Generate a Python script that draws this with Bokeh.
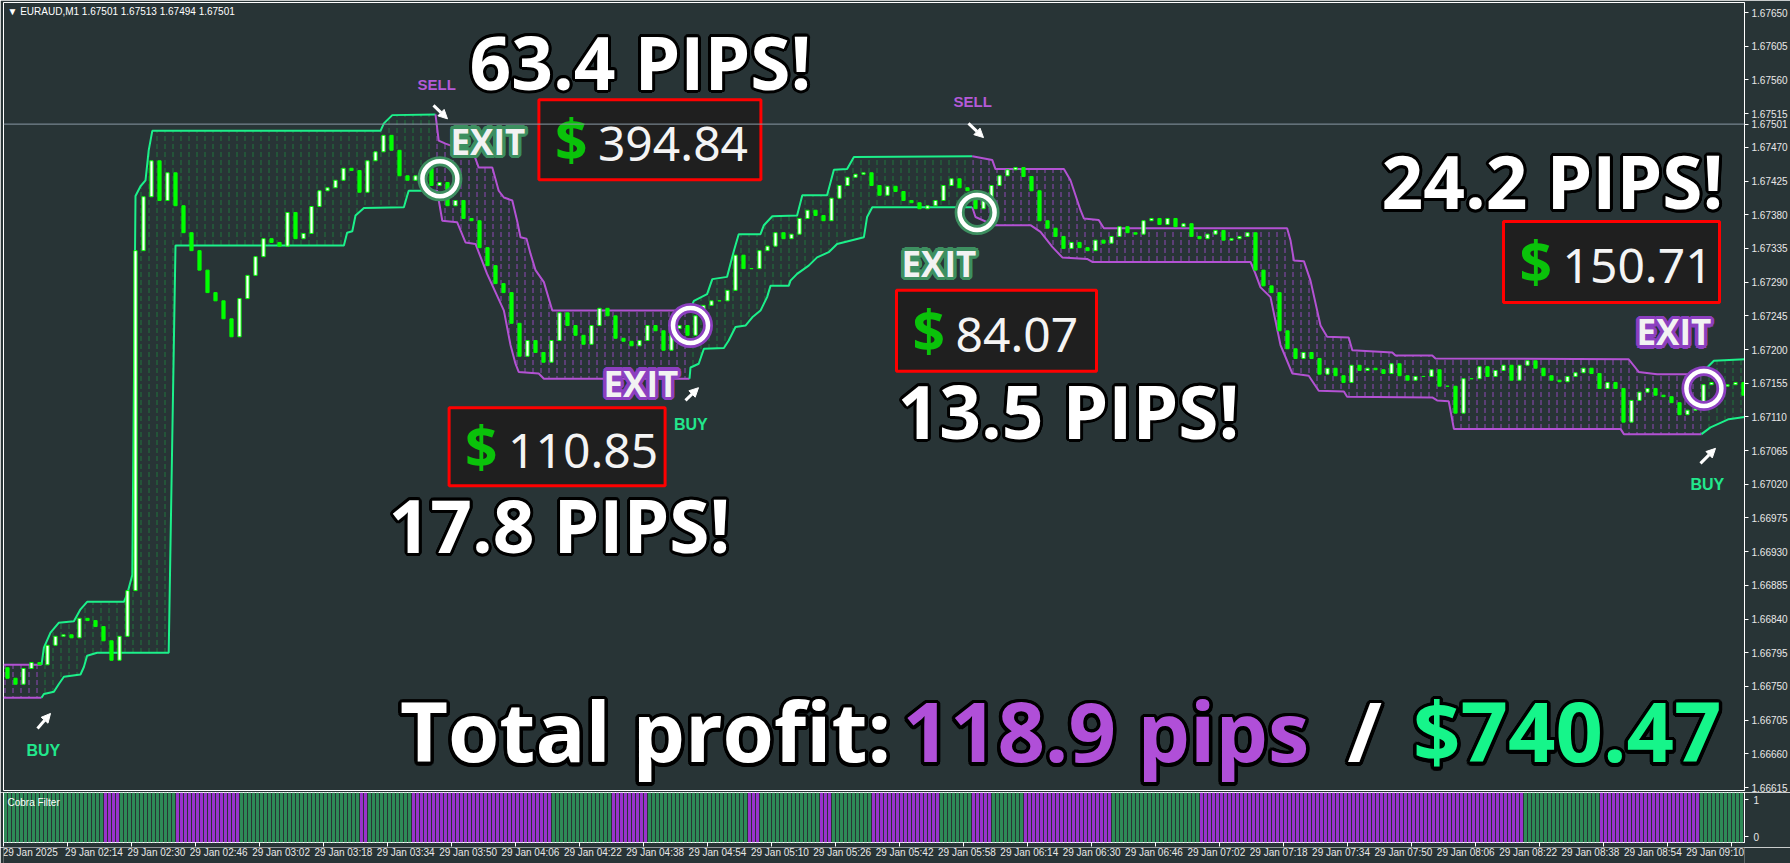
import math
from bokeh.plotting import figure
from bokeh.layouts import column
from bokeh.models import (Range1d, FixedTicker, PrintfTickFormatter, Span, Label,
                          Arrow, NormalHead, ColumnDataSource, CustomJSTickFormatter)
from bokeh.core.properties import value
from bokeh.embed import file_html
from bokeh.resources import INLINE

# ---------------------------------------------------------------- data
# close prices, one value per pair of 1-minute bars (bar 0 = 29 Jan 01:58)
first_open = 1.66775
closes = [
    1.66761, 1.66753, 1.66774, 1.66782, 1.66779, 1.66805, 1.66817, 1.66819, 1.66815, 1.66841,
    1.66838, 1.66830, 1.66811, 1.66785, 1.66817, 1.66878, 1.67332, 1.67404, 1.67452, 1.67399,
    1.67436, 1.67392, 1.67356, 1.67332, 1.67306, 1.67276, 1.67265, 1.67241, 1.67217, 1.67268,
    1.67299, 1.67324, 1.67348, 1.67343, 1.67338, 1.67383, 1.67348, 1.67355, 1.67391, 1.67412,
    1.67416, 1.67426, 1.67442, 1.67439, 1.67410, 1.67452, 1.67464, 1.67486, 1.67466, 1.67432,
    1.67426, 1.67432, 1.67442, 1.67419, 1.67423, 1.67392, 1.67399, 1.67375, 1.67372, 1.67336,
    1.67312, 1.67288, 1.67276, 1.67235, 1.67191, 1.67212, 1.67196, 1.67183, 1.67212, 1.67249,
    1.67232, 1.67219, 1.67207, 1.67232, 1.67255, 1.67245, 1.67215, 1.67211, 1.67205, 1.67212,
    1.67232, 1.67225, 1.67199, 1.67228, 1.67232, 1.67219, 1.67245, 1.67259, 1.67265, 1.67265,
    1.67279, 1.67326, 1.67308, 1.67308, 1.67332, 1.67338, 1.67356, 1.67348, 1.67354, 1.67375,
    1.67386, 1.67379, 1.67372, 1.67402, 1.67419, 1.67430, 1.67434, 1.67436, 1.67419, 1.67406,
    1.67418, 1.67411, 1.67399, 1.67396, 1.67388, 1.67392, 1.67399, 1.67419, 1.67428, 1.67416,
    1.67412, 1.67388, 1.67399, 1.67419, 1.67432, 1.67440, 1.67443, 1.67431, 1.67412, 1.67372,
    1.67362, 1.67351, 1.67335, 1.67343, 1.67336, 1.67332, 1.67346, 1.67342, 1.67351, 1.67364,
    1.67356, 1.67354, 1.67372, 1.67375, 1.67367, 1.67375, 1.67364, 1.67368, 1.67351, 1.67348,
    1.67354, 1.67359, 1.67346, 1.67348, 1.67351, 1.67356, 1.67306, 1.67285, 1.67276, 1.67225,
    1.67201, 1.67188, 1.67196, 1.67188, 1.67167, 1.67175, 1.67165, 1.67156, 1.67179, 1.67172,
    1.67175, 1.67173, 1.67168, 1.67181, 1.67165, 1.67159, 1.67164, 1.67164, 1.67173, 1.67151,
    1.67151, 1.67115, 1.67161, 1.67161, 1.67177, 1.67164, 1.67172, 1.67179, 1.67159, 1.67179,
    1.67185, 1.67175, 1.67165, 1.67159, 1.67157, 1.67164, 1.67169, 1.67175, 1.67168, 1.67148,
    1.67156, 1.67148, 1.67103, 1.67132, 1.67143, 1.67148, 1.67139, 1.67137, 1.67129, 1.67113,
    1.67119, 1.67121, 1.67153, 1.67156, 1.67151, 1.67153, 1.67156, 1.67139,
]

# channel (upper / lower line) vertices, per trend segment: bar index and price
p0_up_bar = [-0.5, 9]
p0_up = [1.66779, 1.66779]
p0_lo_bar = [-0.5, 9]
p0_lo = [1.66735, 1.66735]

g1_up_bar = [9, 9.6, 11.25, 13.3, 17.1, 18.75, 20.4, 29.6, 30.4, 31.7, 32.1, 32.5, 33.75, 35,
             35.8, 36.7, 93.75, 94.6, 96.7, 107.5]
g1_up = [1.66779, 1.66802, 1.66822, 1.66835, 1.66837, 1.66853, 1.66863, 1.66863, 1.66873,
         1.66899, 1.67152, 1.67405, 1.67418, 1.67426, 1.67466, 1.67492, 1.67492, 1.67502,
         1.67513, 1.67514]
g1_lo_bar = [9, 9.6, 12.1, 13.3, 14.6, 18.75, 19.6, 20.4, 22.9, 40.8, 42.5, 84.6, 85.4, 86.7,
             87.5, 89.6, 99.6, 100.4, 100.8, 107.5]
g1_lo = [1.66735, 1.66740, 1.66743, 1.66753, 1.66763, 1.66766, 1.66776, 1.66791, 1.66795,
         1.66795, 1.67339, 1.67339, 1.67356, 1.67358, 1.67379, 1.67389, 1.67390, 1.67405,
         1.67412, 1.67412]

p1_up_bar = [107.5, 108.3, 110, 117.1, 118.3, 121.7, 123.3, 124.6, 126.7, 127.9, 128.75,
             130.25, 131.25, 132.5, 134.6, 136.7, 171]
p1_up = [1.67514, 1.67479, 1.67475, 1.67461, 1.67443, 1.67443, 1.67412, 1.67403, 1.67399,
         1.67372, 1.67350, 1.67348, 1.67328, 1.67306, 1.67290, 1.67252, 1.67252]
p1_lo_bar = [107.5, 107.9, 109.2, 112.9, 115, 117.5, 120.4, 124.6, 126.25, 127.5, 128.3,
             133.3, 134.6, 171]
p1_lo = [1.67412, 1.67412, 1.67372, 1.67370, 1.67343, 1.67341, 1.67301, 1.67252, 1.67206,
         1.67181, 1.67170, 1.67168, 1.67161, 1.67161]

g2_up_bar = [171, 172.1, 175.4, 176.7, 180.4, 182.1, 183.3, 188.75, 189.6, 191.7, 197.9,
             199.2, 205.4, 207.1, 210.4, 212.1, 241.7]
g2_up = [1.67252, 1.67265, 1.67274, 1.67294, 1.67297, 1.67332, 1.67354, 1.67354, 1.67366,
         1.67378, 1.67379, 1.67406, 1.67406, 1.67440, 1.67441, 1.67457, 1.67458]
g2_lo_bar = [171, 171.25, 173.3, 174.6, 179.6, 180.8, 182.5, 185, 186.7, 188.75, 190.4,
             191.25, 195.8, 196.25, 197.9, 200.8, 202.9, 205.8, 207.9, 214.6, 215.4, 216.7,
             241.7]
g2_lo = [1.67161, 1.67176, 1.67181, 1.67201, 1.67202, 1.67212, 1.67230, 1.67232, 1.67243,
         1.67252, 1.67270, 1.67285, 1.67285, 1.67292, 1.67301, 1.67312, 1.67323, 1.67330,
         1.67341, 1.67350, 1.67377, 1.67390, 1.67390]

p2_up_bar = [241.7, 246.7, 247.5, 264.6, 266.25, 268.75, 269.6, 273.3, 274.6, 320.4, 321.25,
             322.1, 324.6, 326.25, 328.75, 330.4, 335.8, 336.7, 346.7, 347.5, 356.7, 357.5,
             405.8, 408.3, 412.9, 424]
p2_up = [1.67458, 1.67453, 1.67441, 1.67441, 1.67426, 1.67386, 1.67375, 1.67373, 1.67362,
         1.67362, 1.67346, 1.67319, 1.67318, 1.67292, 1.67232, 1.67217, 1.67216, 1.67199,
         1.67196, 1.67192, 1.67192, 1.67188, 1.67187, 1.67170, 1.67167, 1.67167]
p2_lo_bar = [241.7, 242.5, 247.1, 256.25, 258.75, 261.7, 264.2, 270.4, 271.7, 311.25, 312.5,
             313.75, 316.25, 318.75, 320, 321.7, 325.8, 328.3, 334.6, 335.4, 356.7, 357.9,
             360.8, 362.1, 403.75, 404.6, 424]
p2_lo = [1.67390, 1.67377, 1.67366, 1.67366, 1.67357, 1.67337, 1.67323, 1.67321, 1.67317,
         1.67317, 1.67301, 1.67283, 1.67270, 1.67206, 1.67190, 1.67168, 1.67165, 1.67145,
         1.67144, 1.67137, 1.67136, 1.67132, 1.67131, 1.67094, 1.67094, 1.67087, 1.67087]

g3_up_bar = [424, 425.4, 427.1, 434.75]
g3_up = [1.67167, 1.67176, 1.67185, 1.67187]
g3_lo_bar = [424, 426.25, 430, 430.8, 434.75]
g3_lo = [1.67087, 1.67096, 1.67105, 1.67107, 1.67110]

# Cobra Filter histogram: run lengths (in 1-minute bars) of each state
filter_state = ["up", "down", "up", "down", "up", "down", "up", "down", "up", "down", "up",
                "down", "up", "down", "up", "down", "up", "down", "up", "down", "up", "down",
                "up", "down", "up"]
filter_len = [25, 4, 14, 16, 30, 2, 11, 35, 15, 9, 25, 3, 15, 3, 10, 17, 8, 5, 8, 22, 22, 81,
              19, 25, 11]

price_ticks = [1.67650, 1.67605, 1.67560, 1.67515, 1.67470, 1.67425, 1.67380, 1.67335,
               1.67290, 1.67245, 1.67200, 1.67155, 1.67110, 1.67065, 1.67020, 1.66975,
               1.66930, 1.66885, 1.66840, 1.66795, 1.66750, 1.66705, 1.66660, 1.66615]
time_labels = ["29 Jan 2025", "29 Jan 02:14", "29 Jan 02:30", "29 Jan 02:46", "29 Jan 03:02",
               "29 Jan 03:18", "29 Jan 03:34", "29 Jan 03:50", "29 Jan 04:06", "29 Jan 04:22",
               "29 Jan 04:38", "29 Jan 04:54", "29 Jan 05:10", "29 Jan 05:26", "29 Jan 05:42",
               "29 Jan 05:58", "29 Jan 06:14", "29 Jan 06:30", "29 Jan 06:46", "29 Jan 07:02",
               "29 Jan 07:18", "29 Jan 07:34", "29 Jan 07:50", "29 Jan 08:06", "29 Jan 08:22",
               "29 Jan 08:38", "29 Jan 08:54", "29 Jan 09:10"]
last_price = 1.67501
header_text = "\u25bc EURAUD,M1  1.67501 1.67513 1.67494 1.67501"

# trade annotations
pips_labels = ["63.4 PIPS!", "17.8 PIPS!", "13.5 PIPS!", "24.2 PIPS!"]
profit_labels = ["394.84", "110.85", "84.07", "150.71"]
total_parts = ["Total profit:", "118.9 pips", "/", "$740.47"]

# ---------------------------------------------------------------- layout / style
W = 1790
MAIN_H = 792
IND_H = 55
LAB_H = 16
BG = "#283436"
AX_TXT = "#e8e8e8"
UI_FONT = "Liberation Sans"
HEAVY = "Open Sans"
BAND_G = "#1cf08a"
BAND_P = "#b352d3"
HATCH_G = "#1f7a3c"
HATCH_P = "#9a48c4"
CANDLE = "#00ff00"
RING = [(math.cos(a * math.pi / 8), math.sin(a * math.pi / 8)) for a in range(16)]
FRAME_W = W - 3 - 46
PX_PER_BAR = FRAME_W / 435.25

xr = Range1d(-0.5, 434.75)
p = figure(width=W, height=MAIN_H, x_range=xr, y_range=Range1d(1.666111, 1.676634),
           x_axis_location=None, y_axis_location="right", output_backend="svg",
           toolbar_location=None, min_border_left=3, min_border_right=46,
           min_border_top=2, min_border_bottom=2)
p.background_fill_color = BG
p.border_fill_color = BG
p.outline_line_color = "white"
p.outline_line_width = 1
p.grid.grid_line_color = None
ya = p.yaxis[0]
ya.ticker = FixedTicker(ticks=price_ticks + [last_price])
ya.formatter = PrintfTickFormatter(format="%.5f")
ya.major_label_text_font = UI_FONT
ya.major_label_text_font_size = "10px"
ya.major_label_text_color = AX_TXT
ya.axis_line_color = "white"
ya.major_tick_line_color = "white"
ya.major_tick_out = 4
ya.major_tick_in = 0
ya.minor_tick_line_color = None
ya.major_label_standoff = 3

# channel segments
segments = [
    ("down", p0_up_bar, p0_up, p0_lo_bar, p0_lo),
    ("up", g1_up_bar, g1_up, g1_lo_bar, g1_lo),
    ("down", p1_up_bar, p1_up, p1_lo_bar, p1_lo),
    ("up", g2_up_bar, g2_up, g2_lo_bar, g2_lo),
    ("down", p2_up_bar, p2_up, p2_lo_bar, p2_lo),
    ("up", g3_up_bar, g3_up, g3_lo_bar, g3_lo),
]
for trend, ub, uv, lb, lv in segments:
    hc = HATCH_G if trend == "up" else HATCH_P
    p.patch(ub + lb[::-1], uv + lv[::-1], fill_color=None, line_color=None,
            hatch_pattern="vertical_dash", hatch_color=hc, hatch_scale=8, hatch_weight=1,
            hatch_alpha=0.9)
for trend, ub, uv, lb, lv in segments:
    lc = BAND_G if trend == "up" else BAND_P
    p.line(ub, uv, line_color=lc, line_width=2)
    p.line(lb, lv, line_color=lc, line_width=2)

# current price line
p.add_layout(Span(location=last_price, dimension="width", line_color="#8a98a4", line_width=1))

# candles
opens = [first_open] + closes[:-1]
cx = [2 * k + 0.5 for k in range(len(closes))]
csrc = ColumnDataSource(dict(
    x=cx,
    top=[max(o, c) for o, c in zip(opens, closes)],
    bottom=[min(o, c) for o, c in zip(opens, closes)],
    fill=["#ffffff" if c >= o else CANDLE for o, c in zip(opens, closes)],
))
p.vbar(x="x", top="top", bottom="bottom", width=0.8, fill_color="fill", line_color=CANDLE,
       line_width=1, source=csrc)


def outlined(fig, x, y, text, size, color, stroke, r, font=HEAVY, style="bold",
             align="left"):
    n = len(RING)
    fig.text(x=[x] * n, y=[y] * n, text=[text] * n,
             x_offset=[r * c for c, s in RING], y_offset=[r * s for c, s in RING],
             text_color=stroke, text_font=value(font), text_font_size=size,
             text_font_style=style, text_align=align, text_baseline="middle")
    fig.text(x=[x], y=[y], text=[text], text_color=color, text_font=value(font),
             text_font_size=size, text_font_style=style, text_align=align,
             text_baseline="middle")


# circles at exits
circ_pos = [(108.6, 1.67428, "#3d8f60"), (171.25, 1.67232, "#8c3fc0"),
            (242.9, 1.67383, "#3d8f60"), (424.6, 1.67148, "#8c3fc0")]
for bx, by, oc in circ_pos:
    p.scatter([bx], [by], marker="circle", size=35, fill_color=None, line_color=oc,
              line_width=10)
    p.scatter([bx], [by], marker="circle", size=35, fill_color=None, line_color="white",
              line_width=4.5)

# EXIT labels (text centre positions)
exit_pos = [(111.25, 1.67478, "#3d8f60"), (149.5, 1.67155, "#8c3fc0"),
            (224.0, 1.67315, "#3d8f60"), (407.75, 1.67224, "#8c3fc0")]
for bx, by, oc in exit_pos:
    outlined(p, bx, by, "EXIT", "35px", "#f2f2f2", oc, 3.5)

# SELL / BUY signals
for bx, by in [(103, 1.67554), (237, 1.67531)]:
    p.text(x=[bx], y=[by], text=["SELL"], text_color="#b45ad8", text_font=value(UI_FONT),
           text_font_size="15px", text_font_style="bold", text_baseline="middle")
for bx, by in [(5.25, 1.66665), (167.1, 1.67100), (421.25, 1.67020)]:
    p.text(x=[bx], y=[by], text=["BUY"], text_color="#22e88c", text_font=value(UI_FONT),
           text_font_size="16px", text_font_style="bold", text_baseline="middle")
arrows = [(107, 1.67526, 110.5, 1.67508), (240.75, 1.67502, 244.5, 1.67483),
          (8, 1.66694, 11.25, 1.66714), (170, 1.67132, 173.25, 1.67149),
          (423.75, 1.67048, 427.5, 1.67068)]
for x0, y0, x1, y1 in arrows:
    p.add_layout(Arrow(end=NormalHead(size=9, fill_color="white", line_color="white"),
                       x_start=x0, y_start=y0, x_end=x1, y_end=y1,
                       line_color="white", line_width=3))

# profit boxes
box_pos = [(161.1, 1.67480, 222, 80), (137.9, 1.67070, 216, 78),
           (247.75, 1.67225, 200, 81), (401.5, 1.67317, 216, 81)]
for (bx, by, bw, bh), lab in zip(box_pos, profit_labels):
    p.rect(x=[bx], y=[by], width=bw, height=bh, width_units="screen", height_units="screen",
           fill_color="#1f1f1f", line_color="#ff0000", line_width=3)
    p.text(x=[bx], y=[by], text=["$"], x_offset=-bw / 2 + 16, y_offset=-1,
           text_color="#0ac20a", text_font=value("Open Sans"), text_font_size="57px",
           text_font_style="bold", text_baseline="middle", text_align="left")
    p.text(x=[bx], y=[by], text=[lab], x_offset=-bw / 2 + 59, y_offset=4,
           text_color="#f4f4f4", text_font=value("Noto Sans"), text_font_size="48px",
           text_baseline="middle", text_align="left")

# big pip labels (text centre positions)
pips_pos = [(116, 1.67585), (95.75, 1.66966), (223, 1.67119), (344, 1.67426)]
for (bx, by), lab in zip(pips_pos, pips_labels):
    outlined(p, bx, by, lab, "73px", "white", "black", 3)

# total profit line (last part anchored by its right edge)
total_pos = [98.6, 224.25, 335.5, 429.0]
total_col = ["white", "#b04fd8", "white", "#16f58a"]
total_align = ["left", "left", "left", "right"]
for bx, lab, col, al in zip(total_pos, total_parts, total_col, total_align):
    outlined(p, bx, 1.66692, lab, "83px", col, "black", 3.5, align=al)

# header
p.add_layout(Label(x=0.5, y=1.67651, text=header_text, text_color="white",
                   text_font=UI_FONT, text_font_size="10px", text_baseline="middle"))

# ---------------------------------------------------------------- indicator panel
p2 = figure(width=W, height=IND_H, x_range=Range1d(-0.5, 434.75), y_range=Range1d(-0.16, 1.19),
            x_axis_location="below", y_axis_location="right", output_backend="svg",
            toolbar_location=None, min_border_left=3, min_border_right=46,
            min_border_top=0, min_border_bottom=5)
p2.background_fill_color = BG
p2.border_fill_color = BG
p2.outline_line_color = "white"
p2.grid.grid_line_color = None

hx, hcol = [], []
pos = 0
for st, n in zip(filter_state, filter_len):
    for i in range(n):
        hx.append(pos + i)
        hcol.append("#2e8b57" if st == "up" else "#9932cc")
    pos += n
p2.vbar(x=hx, top=1.2, bottom=-0.2, width=0.75, fill_color=hcol, line_color=None)

y2 = p2.yaxis[0]
y2.ticker = FixedTicker(ticks=[0, 1])
y2.formatter = PrintfTickFormatter(format="%d")
y2.major_label_text_font = UI_FONT
y2.major_label_text_font_size = "10px"
y2.major_label_text_color = AX_TXT
y2.axis_line_color = "white"
y2.major_tick_line_color = "white"
y2.major_tick_out = 4
y2.major_tick_in = 0
y2.minor_tick_line_color = None

tick_bars = [16 * i for i in range(len(time_labels))]
tick_marks = [b - 0.45 for b in tick_bars]
x2 = p2.xaxis[0]
x2.ticker = FixedTicker(ticks=tick_marks)
x2.formatter = CustomJSTickFormatter(code="return ''")
x2.major_label_text_font_size = "1px"
x2.major_label_standoff = 0
x2.axis_line_color = None
x2.major_tick_line_color = "white"
x2.major_tick_out = 4
x2.major_tick_in = 0
x2.minor_tick_line_color = None

p2.add_layout(Label(x=0.5, y=0.92, text="Cobra Filter", text_color="white", text_font=UI_FONT,
                    text_font_size="10px", text_baseline="middle"))

# time labels strip (shares the bar scale, frame spans to the right edge)
pt = figure(width=W, height=LAB_H, x_range=Range1d(-0.5, -0.5 + (W - 3) / PX_PER_BAR),
            y_range=Range1d(-1, 1), x_axis_location=None, y_axis_location=None,
            output_backend="svg", toolbar_location=None, min_border_left=3,
            min_border_right=0, min_border_top=0, min_border_bottom=0)
pt.background_fill_color = BG
pt.border_fill_color = BG
pt.outline_line_color = None
pt.grid.grid_line_color = None
pt.text(x=[t - 0.25 for t in tick_marks], y=[0.375] * len(tick_marks), text=time_labels,
        text_font=value(UI_FONT), text_font_size="10px", text_color=AX_TXT,
        text_baseline="middle", text_align="left")

layout = column(p, p2, pt, spacing=0)
open("out.html", "w").write(file_html(layout, INLINE))
